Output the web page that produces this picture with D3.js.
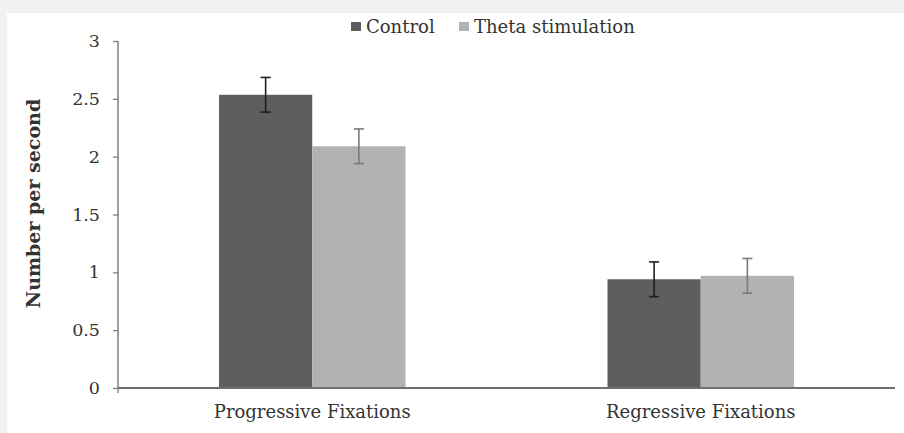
<!DOCTYPE html>
<html>
<head>
<meta charset="utf-8">
<script src="https://cdn.jsdelivr.net/npm/d3@7"></script>
<style>
  body { margin: 0; background: #f0f1f3; }
  #wrapper { position: absolute; left: 7px; top: 13px; width: 897px; height: 420px; background: #fff; }
  svg { position: absolute; left: 0; top: 0; }
  text { font-family: "DejaVu Serif", serif; fill: #333; }
</style>
</head>
<body>
<div id="wrapper"></div>
<script>
const categories = ["Progressive Fixations", "Regressive Fixations"];
const seriesNames = ["Control", "Theta stimulation"];
const controlValues = [2.535, 0.94];
const thetaValues = [2.09, 0.97];
const controlErrors = [0.15, 0.15];
const thetaErrors = [0.15, 0.15];
const yTicks = [0, 0.5, 1, 1.5, 2, 2.5, 3];

const colors = ["#5e5e5e", "#b2b2b2"];
const errColors = ["#1e1e1e", "#7a7a7a"];

const drawChart = () => {
  const dimensions = {
    width: 904,
    height: 433,
    margin: { top: 41, right: 9, bottom: 45, left: 118 },
  };
  dimensions.boundedWidth =
    dimensions.width - dimensions.margin.left - dimensions.margin.right;
  dimensions.boundedHeight =
    dimensions.height - dimensions.margin.top - dimensions.margin.bottom;

  const svg = d3
    .select("body")
    .append("svg")
    .attr("width", dimensions.width)
    .attr("height", dimensions.height);

  const bounds = svg
    .append("g")
    .attr("transform", `translate(${dimensions.margin.left},${dimensions.margin.top})`);

  const data = categories.map((c, i) => ({
    category: c,
    values: [
      { series: seriesNames[0], value: controlValues[i], err: controlErrors[i] },
      { series: seriesNames[1], value: thetaValues[i], err: thetaErrors[i] },
    ],
  }));

  const xScale = d3
    .scaleBand()
    .domain(categories)
    .range([0, dimensions.boundedWidth]);

  const groupWidth = xScale.bandwidth() * 0.48;
  const subScale = d3
    .scaleBand()
    .domain(seriesNames)
    .range([(xScale.bandwidth() - groupWidth) / 2, (xScale.bandwidth() + groupWidth) / 2]);

  const yScale = d3
    .scaleLinear()
    .domain([0, 3])
    .range([dimensions.boundedHeight, 0]);

  const groups = bounds
    .selectAll(".group")
    .data(data)
    .join("g")
    .attr("class", "group")
    .attr("transform", (d) => `translate(${xScale(d.category)},0)`);

  groups
    .selectAll("rect")
    .data((d) => d.values)
    .join("rect")
    .attr("x", (d) => subScale(d.series))
    .attr("width", subScale.bandwidth())
    .attr("y", (d) => yScale(d.value))
    .attr("height", (d) => dimensions.boundedHeight - yScale(d.value))
    .attr("fill", (d, i) => colors[i]);

  const errs = groups
    .selectAll(".err")
    .data((d) => d.values)
    .join("g")
    .attr("class", "err")
    .attr("stroke", (d, i) => errColors[i])
    .attr("stroke-width", 1.6);

  errs
    .append("line")
    .attr("x1", (d) => subScale(d.series) + subScale.bandwidth() / 2)
    .attr("x2", (d) => subScale(d.series) + subScale.bandwidth() / 2)
    .attr("y1", (d) => yScale(d.value + d.err))
    .attr("y2", (d) => yScale(d.value - d.err));

  [1, -1].forEach((s) => {
    errs
      .append("line")
      .attr("x1", (d) => subScale(d.series) + subScale.bandwidth() / 2 - 5)
      .attr("x2", (d) => subScale(d.series) + subScale.bandwidth() / 2 + 5)
      .attr("y1", (d) => yScale(d.value + s * d.err))
      .attr("y2", (d) => yScale(d.value + s * d.err));
  });

  // y axis
  const yAxisGenerator = d3
    .axisLeft(yScale)
    .tickValues(yTicks)
    .tickSize(5)
    .tickPadding(13)
    .tickFormat((d) => d);

  const yAxis = bounds.append("g").call(yAxisGenerator);
  yAxis.select(".domain").attr("stroke", "#7f7f7f").attr("stroke-width", 1.5).attr("d", `M0,0V${dimensions.boundedHeight}`);
  yAxis.selectAll(".tick line").attr("stroke", "#7f7f7f").attr("stroke-width", 1.3);
  yAxis
    .selectAll("text")
    .style("font-size", "17.5px")
    .attr("fill", "#333")
    .style("font-family", '"DejaVu Serif", serif');

  // x axis
  const xAxis = bounds
    .append("g")
    .attr("transform", `translate(0,${dimensions.boundedHeight})`)
    .call(d3.axisBottom(xScale).tickSize(0).tickPadding(17));
  xAxis.select(".domain").attr("stroke", "#6f6f6f").attr("stroke-width", 2).attr("d", `M0,0H${dimensions.boundedWidth}`);
  xAxis.append("line").attr("y2", 5).attr("stroke", "#7f7f7f").attr("stroke-width", 1.3);
  xAxis
    .selectAll("text")
    .style("font-size", "18px")
    .attr("fill", "#333")
    .style("font-family", '"DejaVu Serif", serif');

  // y label
  svg
    .append("text")
    .attr("transform", `translate(40,${dimensions.margin.top + dimensions.boundedHeight / 2 - 11}) rotate(-90)`)
    .attr("text-anchor", "middle")
    .style("font-size", "19px")
    .style("font-weight", "bold")
    .attr("fill", "#222")
    .text("Number per second");

  // legend
  const legendX = [351, 459];
  const legend = svg
    .selectAll(".legend")
    .data(seriesNames)
    .join("g")
    .attr("class", "legend")
    .attr("transform", (d, i) => `translate(${legendX[i]},22)`);
  legend
    .append("rect")
    .attr("width", 10)
    .attr("height", 9)
    .attr("fill", (d, i) => colors[i]);
  legend
    .append("text")
    .attr("x", 15)
    .attr("y", 10.5)
    .style("font-size", "18px")
    .attr("fill", "#2a2a2a")
    .text((d) => d);
};

drawChart();
</script>
</body>
</html>
